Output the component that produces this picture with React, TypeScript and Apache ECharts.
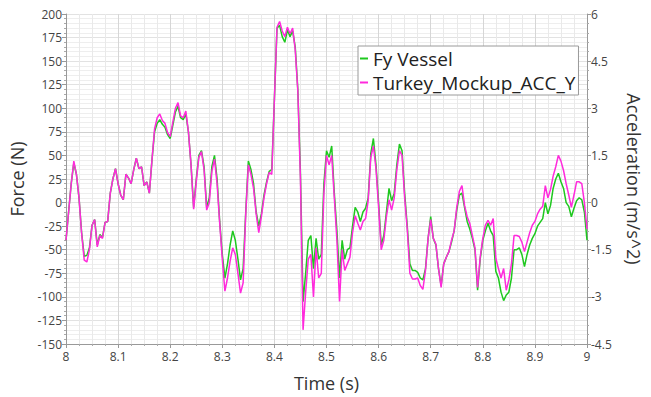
import React, { useEffect, useRef } from "react";
import * as echarts from "echarts";

// Sample times: 8.000 s .. 9.000 s every 0.005 s
const START_TIME = 8.0;
const TIME_STEP = 0.005;

// Fy Vessel, force in N (left axis)
const fyVessel: number[] = [
  -40, -10, 20, 42, 30, 5, -32, -57, -56, -48,
  -24, -18, -45, -34, -37, -21, -20, 10, 25, 36,
  20, 8, 3, 30, 26, 20, 35, 47, 36, 38,
  18, 22, 10, 45, 75, 84, 88, 83, 80, 72,
  68, 82, 96, 102, 90, 88, 94, 75, 40, -5,
  25, 50, 55, 38, -5, 5, 38, 50, 25, -20,
  -55, -80, -65, -45, -30, -40, -60, -82, -70, -10,
  44, 35, 20, -10, -25, -12, 8, 22, 33, 35,
  110, 185, 188, 176, 170, 183, 176, 182, 165, 120,
  31, -105, -75, -40, -35, -70, -38, -60, -55, 20,
  55, 48, 60, 10, -30, -80, -40, -60, -50, -48,
  -25, -5, -10, -20, -10, -6, 5, 52, 68, 40,
  0, -45, -35, -10, 15, 2, 10, 40, 62, 55,
  10, -25, -65, -72, -72, -74, -80, -82, -70, -38,
  -15, -38, -45, -70, -88, -65, -58, -52, -42, -30,
  -8, 8, 10, -5, -20, -28, -38, -50, -93, -60,
  -40, -30, -22, -30, -35, -73, -80, -95, -104, -98,
  -95, -80, -50, -50, -48, -55, -68, -55, -45, -38,
  -33, -25, -21, -17, 0, -12, -3, 15, 25, 31,
  22, 15, 0, -4, -15, -6, 2, 5, 3, -10,
  -40,
];

// Turkey_Mockup_ACC_Y, acceleration in m/s^2 (right axis)
const turkeyAccY: number[] = [
  -1.2, -0.3, 0.6, 1.32, 0.9, 0.15, -0.99, -1.83, -1.89, -1.5,
  -0.72, -0.54, -1.41, -1.05, -1.14, -0.63, -0.6, 0.3, 0.75, 1.08,
  0.6, 0.24, 0.09, 0.9, 0.78, 0.6, 1.05, 1.41, 1.08, 1.14,
  0.54, 0.66, 0.3, 1.35, 2.34, 2.7, 2.82, 2.61, 2.52, 2.22,
  2.1, 2.55, 3.0, 3.18, 2.76, 2.7, 2.91, 2.25, 1.2, -0.21,
  0.66, 1.44, 1.62, 1.05, -0.24, 0.0, 0.99, 1.38, 0.6, -0.66,
  -1.8, -2.82, -2.4, -1.86, -1.44, -1.65, -2.25, -2.88, -2.55, -0.36,
  1.2, 0.9, 0.45, -0.36, -0.96, -0.45, 0.15, 0.6, 0.96, 0.9,
  3.3, 5.58, 5.76, 5.46, 5.28, 5.58, 5.37, 5.55, 4.86, 3.54,
  0.75, -4.05, -2.85, -1.8, -1.65, -3.0, -1.44, -2.4, -2.25, 0.3,
  1.5, 1.2, 1.5, 0.15, -1.2, -3.15, -1.5, -2.16, -1.95, -1.74,
  -0.96, -0.42, -0.66, -0.87, -0.6, -0.51, 0.06, 1.44, 1.8, 1.08,
  -0.15, -1.5, -1.2, -0.45, 0.09, -0.24, 0.15, 1.05, 1.65, 1.5,
  0.15, -0.84, -2.25, -2.43, -2.43, -2.4, -2.64, -2.76, -2.16, -1.14,
  -0.54, -1.14, -1.32, -2.1, -2.7, -1.95, -1.74, -1.56, -1.2, -0.9,
  -0.15, 0.36, 0.54, -0.09, -0.45, -0.66, -1.05, -1.44, -2.7, -1.74,
  -1.14, -0.72, -0.57, -0.72, -0.51, -1.77, -2.1, -2.4, -2.1, -2.79,
  -2.46, -1.95, -1.05, -1.05, -1.08, -1.26, -1.56, -1.26, -0.96, -0.72,
  -0.6, -0.36, -0.21, -0.12, 0.54, 0.15, 0.42, 0.84, 1.14, 1.5,
  1.32, 1.02, 0.6, 0.24, -0.15, 0.24, 0.66, 0.66, 0.6, 0.0,
  -0.84,
];

const SERIES_NAMES = ["Fy Vessel", "Turkey_Mockup_ACC_Y"];
const SERIES_COLORS = ["#1ec81e", "#ff2adc"];

const TIME_RANGE = [8, 9, 0.1];
const FORCE_RANGE = [-150, 200, 25];
const ACC_RANGE = [-4.5, 6, 1.5];

const FONT = "'Open Sans', 'Noto Sans', sans-serif";

const toPairs = (vals: number[]) =>
  vals.map((v, i) => [Number((START_TIME + i * TIME_STEP).toFixed(3)), v]);

export default function App() {
  const ref = useRef<HTMLDivElement>(null);

  useEffect(() => {
    if (!ref.current) return;
    const chart = echarts.init(ref.current, undefined, { renderer: "svg" });
    const axisLabel = { color: "#444", fontSize: 12, fontFamily: FONT };
    const axisName = { color: "#333", fontSize: 18, fontFamily: FONT };
    chart.setOption({
      animation: false,
      backgroundColor: "#ffffff",
      textStyle: { fontFamily: FONT },
      grid: { left: 64, right: 59, top: 14, bottom: 46, containLabel: false },
      legend: {
        orient: "vertical",
        left: 358,
        top: 46,
        padding: [3, 3, 3, 2],
        itemGap: 5,
        itemWidth: 8,
        itemHeight: 2,
        icon: "rect",
        backgroundColor: "#ffffff",
        borderColor: "#9a9a9a",
        borderWidth: 1,
        borderRadius: 0,
        textStyle: { color: "#222", fontSize: 19, lineHeight: 19, fontFamily: FONT },
        data: SERIES_NAMES,
      },
      xAxis: {
        type: "value",
        min: TIME_RANGE[0],
        max: TIME_RANGE[1],
        interval: TIME_RANGE[2],
        name: "Time (s)",
        nameLocation: "middle",
        nameGap: 30,
        nameTextStyle: axisName,
        axisLine: { show: true, onZero: false, lineStyle: { color: "#999" } },
        axisTick: { show: true, length: 4, lineStyle: { color: "#999" } },
        minorTick: { show: true, splitNumber: 4, length: 2, lineStyle: { color: "#aaa" } },
        axisLabel: { ...axisLabel, margin: 6 },
        splitLine: { show: true, lineStyle: { color: "#d6d6d6", width: 1 } },
        minorSplitLine: { show: true, lineStyle: { color: "#e9e9e9", width: 1 } },
      },
      yAxis: [
        {
          type: "value",
          position: "left",
          min: FORCE_RANGE[0],
          max: FORCE_RANGE[1],
          interval: FORCE_RANGE[2],
          name: "Force (N)",
          nameLocation: "middle",
          nameGap: 40,
          nameTextStyle: axisName,
          axisLine: { show: true, onZero: false, lineStyle: { color: "#999" } },
          axisTick: { show: true, length: 4, lineStyle: { color: "#999" } },
          minorTick: { show: true, splitNumber: 5, length: 2, lineStyle: { color: "#aaa" } },
          axisLabel: { ...axisLabel, margin: 4 },
          splitLine: { show: true, lineStyle: { color: "#e2e2e2", width: 1 } },
          minorSplitLine: { show: true, lineStyle: { color: "#eeeeee", width: 1 } },
        },
        {
          type: "value",
          position: "right",
          min: ACC_RANGE[0],
          max: ACC_RANGE[1],
          interval: ACC_RANGE[2],
          name: "Acceleration (m/s^2)",
          nameLocation: "middle",
          nameGap: 38,
          nameRotate: -90,
          nameTextStyle: axisName,
          axisLine: { show: true, onZero: false, lineStyle: { color: "#999" } },
          axisTick: { show: true, length: 4, lineStyle: { color: "#999" } },
          minorTick: { show: true, splitNumber: 5, length: 2, lineStyle: { color: "#aaa" } },
          axisLabel: { ...axisLabel, margin: 4 },
          splitLine: { show: false },
        },
      ],
      series: [
        {
          name: SERIES_NAMES[0],
          type: "line",
          yAxisIndex: 0,
          data: toPairs(fyVessel),
          showSymbol: false,
          symbol: "none",
          smooth: false,
          color: SERIES_COLORS[0],
          lineStyle: { width: 1.5, color: SERIES_COLORS[0] },
          markLine: {
            silent: true,
            symbol: "none",
            label: { show: false },
            lineStyle: { color: "#cfcfcf", width: 1, type: "solid" },
            data: [{ yAxis: 75 }],
            z: 0,
          },
          z: 3,
        },
        {
          name: SERIES_NAMES[1],
          type: "line",
          yAxisIndex: 1,
          data: toPairs(turkeyAccY),
          showSymbol: false,
          symbol: "none",
          smooth: false,
          color: SERIES_COLORS[1],
          lineStyle: { width: 1.5, color: SERIES_COLORS[1] },
          z: 4,
        },
      ],
    });
    return () => chart.dispose();
  }, []);

  return <div ref={ref} style={{ width: 651, height: 397, position: "absolute", left: 0, top: 0 }} />;
}
